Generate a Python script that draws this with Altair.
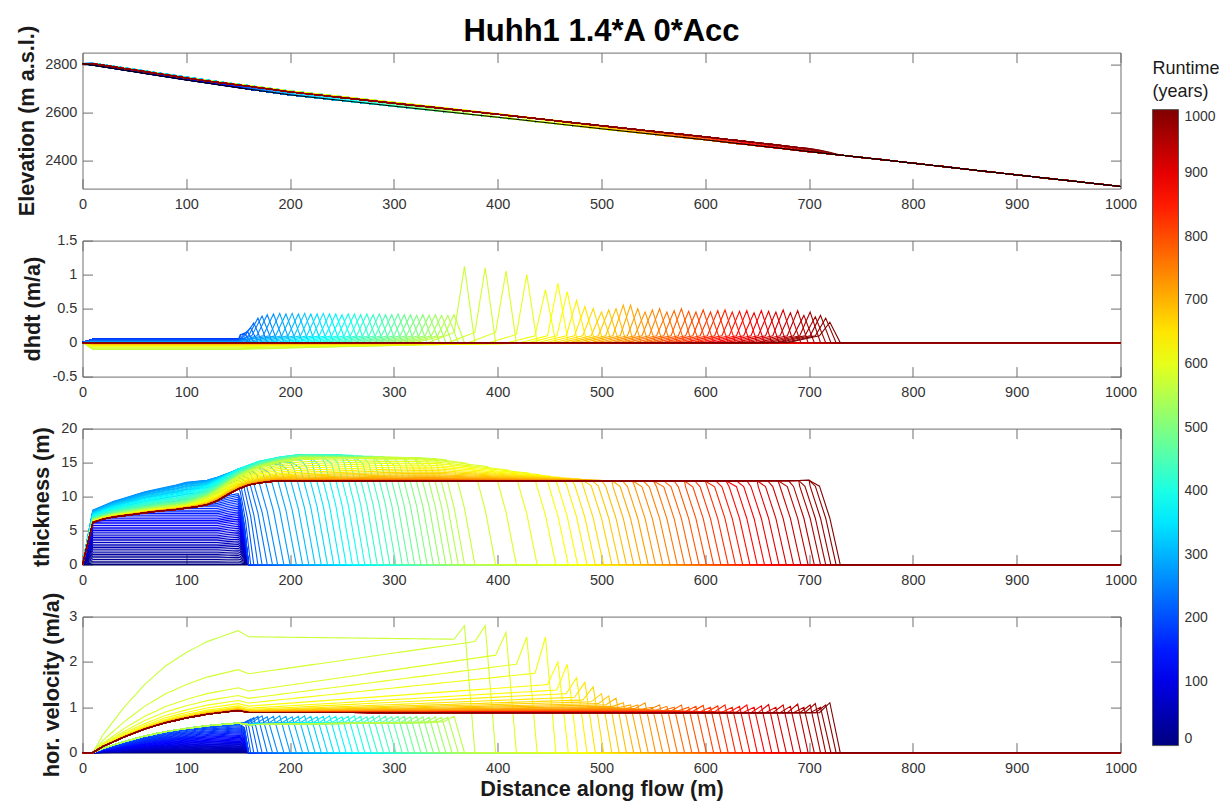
import altair as alt
import numpy as np
import pandas as pd

alt.data_transformers.disable_max_rows()

# ---------------- text ----------------
TITLE = "Huhh1 1.4*A 0*Acc"
Y_TITLES = ["Elevation (m a.s.l.)", "dhdt (m/a)", "thickness (m)", "hor. velocity (m/a)"]
X_TITLE = "Distance along flow (m)"
LEGEND_TITLE = ["Runtime", "(years)"]

# ---------------- ticks ----------------
X_TICKS = [0, 100, 200, 300, 400, 500, 600, 700, 800, 900, 1000]
ELEV_TICKS = [2400, 2600, 2800]
DHDT_TICKS = [-0.5, 0, 0.5, 1, 1.5]
THICK_TICKS = [0, 5, 10, 15, 20]
VEL_TICKS = [0, 1, 2, 3]
RUNTIME_TICKS = [0, 100, 200, 300, 400, 500, 600, 700, 800, 900, 1000]

# model grid along flow (m)
GRID_X = list(range(0, 1001, 10))

# ---------------- profiles ----------------
BED_X = [0, 50, 100, 150, 200, 300, 400, 500, 600, 700, 800, 900, 1000]
BED_Z = [2802, 2768, 2734, 2702, 2672, 2625, 2579, 2531, 2485, 2436, 2388, 2339, 2291]

# final (red) thickness profile
FINAL_X = [0, 10, 20, 30, 40, 50, 60, 70, 80, 90, 100, 110, 120, 130, 140, 150, 160, 170, 180, 190, 200, 400, 600, 680, 700, 1000]
FINAL_H = [0, 6.2, 6.7, 7.0, 7.2, 7.4, 7.6, 7.8, 7.95, 8.1, 8.3, 8.5, 8.8, 9.4, 10.3, 11.1, 11.7, 12.0, 12.2, 12.3, 12.3, 12.3, 12.3, 12.35, 12.4, 12.4]

# upper envelope of all thickness curves
TOP_X = [0, 10, 30, 60, 90, 120, 150, 170, 190, 220, 250, 290, 320, 345, 370, 400, 430, 465, 500, 530, 560, 600, 1000]
TOP_H = [0, 8.0, 9.3, 10.7, 11.7, 12.9, 15.0, 15.9, 16.2, 16.2, 16.1, 16.0, 15.8, 15.5, 15.0, 14.4, 13.8, 13.2, 12.7, 12.5, 12.4, 12.3, 12.3]

# normalised velocity shape upstream of x = 150 m
VS_X = [0, 10, 20, 30, 40, 60, 80, 100, 120, 140, 150]
VS_S = [0, 0.0, 0.15, 0.26, 0.37, 0.56, 0.71, 0.82, 0.91, 0.97, 1.0]

# zones where the thickening weights apply (upstream, middle, downstream)
ZONE_X = [100, 210, 340]

# ---------------- phase A: slab thickening, front fixed ----------------
YEARS_A = [0, 5, 10, 15, 20, 25, 30, 35, 40, 45, 50, 55, 60, 65, 70, 75, 80, 85, 90, 95,
           100, 105, 110, 115, 120, 125, 130, 135, 140, 145, 150, 155, 160, 165, 170, 175, 180, 185, 190, 195]
SLAB_H = [0, 0.25, 0.5, 0.75, 1.0, 1.25, 1.5, 1.75, 2.0, 2.25, 2.5, 2.75, 3.0, 3.25, 3.5, 3.75, 4.0, 4.25, 4.5, 4.75,
          5.0, 5.25, 5.5, 5.75, 6.0, 6.25, 6.5, 6.75, 7.0, 7.25, 7.5, 7.75, 8.0, 8.25, 8.5, 8.75, 9.0, 9.25, 9.5, 9.75]
U150_A = [0, 0.003, 0.007, 0.013, 0.02, 0.028, 0.037, 0.047, 0.057, 0.068, 0.08, 0.092, 0.105, 0.119, 0.133, 0.147,
          0.162, 0.177, 0.193, 0.209, 0.226, 0.243, 0.261, 0.279, 0.297, 0.316, 0.335, 0.355, 0.375, 0.395, 0.416,
          0.437, 0.458, 0.48, 0.502, 0.524, 0.546, 0.569, 0.593, 0.616]
FRONT_A = 160
TAPER_A = 4
DHDT_A = 0.05
BUMP_X = [0, 130, 140, 150, 170]
BUMP_K = [1.0, 1.0, 1.04, 1.07, 1.07]

# ---------------- phase B: slow advance ----------------
YEARS_B = [200, 210, 220, 230, 240, 250, 260, 270, 280, 290, 300, 310, 320, 330, 340, 350, 360, 370, 380,
           390, 400, 410, 420, 430, 440, 450, 460, 470, 480, 490, 500, 510, 520, 530, 540, 550, 560]
FRONT_B = [162, 165, 169, 173, 178, 183, 188, 194, 200, 206, 212, 218, 224, 230, 236, 242, 248, 254, 260,
           266, 272, 278, 284, 290, 296, 302, 308, 314, 320, 326, 332, 338, 344, 350, 356, 362, 368]
TAPER_B = [5, 6, 7, 8, 9, 10, 10, 10, 10, 10, 10, 10, 10, 10, 10, 10, 10, 10, 10,
           10, 10, 10, 10, 10, 10, 10, 10, 10, 10, 10, 10, 10, 10, 10, 10, 10, 10]
W_UP_B = [0.15, 0.35, 0.55, 0.72, 0.85, 0.94, 1.0, 0.98, 0.95, 0.92, 0.88, 0.84, 0.8, 0.76, 0.72, 0.68, 0.64, 0.6, 0.56,
          0.52, 0.48, 0.45, 0.42, 0.39, 0.36, 0.33, 0.31, 0.29, 0.27, 0.25, 0.23, 0.21, 0.2, 0.19, 0.18, 0.17, 0.16]
W_MID_B = [0.0, 0.05, 0.1, 0.16, 0.22, 0.28, 0.34, 0.4, 0.46, 0.52, 0.58, 0.64, 0.7, 0.75, 0.8, 0.85, 0.89, 0.93, 0.96,
           0.98, 1.0, 1.0, 1.0, 0.99, 0.98, 0.97, 0.96, 0.95, 0.94, 0.93, 0.92, 0.91, 0.9, 0.89, 0.88, 0.87, 0.86]
W_DN_B = [0.0, 0.05, 0.1, 0.16, 0.22, 0.28, 0.34, 0.4, 0.46, 0.52, 0.58, 0.64, 0.7, 0.75, 0.8, 0.85, 0.89, 0.93, 0.96,
          0.98, 1.0, 1.0, 1.0, 0.99, 0.98, 0.97, 0.96, 0.95, 0.94, 0.93, 0.92, 0.93, 0.94, 0.95, 0.96, 0.98, 1.0]
U150_B = [0.62, 0.63, 0.64, 0.64, 0.65, 0.65, 0.65, 0.65, 0.65, 0.65, 0.65, 0.65, 0.65, 0.65, 0.65, 0.65, 0.65, 0.65, 0.65,
          0.65, 0.65, 0.65, 0.65, 0.65, 0.65, 0.65, 0.65, 0.65, 0.65, 0.65, 0.65, 0.65, 0.65, 0.65, 0.65, 0.65, 0.65]
UFRONT_B = [0.62, 0.63, 0.64, 0.65, 0.66, 0.66, 0.66, 0.66, 0.66, 0.66, 0.66, 0.66, 0.66, 0.66, 0.66, 0.66, 0.66, 0.66, 0.66,
            0.66, 0.66, 0.66, 0.66, 0.66, 0.66, 0.66, 0.66, 0.66, 0.66, 0.66, 0.66, 0.66, 0.66, 0.66, 0.66, 0.67, 0.68]
VPEAK_B = [0.66, 0.7, 0.74, 0.77, 0.8, 0.81, 0.79, 0.8, 0.81, 0.8, 0.79, 0.8, 0.81, 0.8, 0.79, 0.8, 0.81, 0.8, 0.79,
           0.8, 0.81, 0.8, 0.79, 0.8, 0.81, 0.8, 0.79, 0.8, 0.8, 0.79, 0.8, 0.79, 0.78, 0.79, 0.78, 0.78, 0.8]
DUP_B = [0.04, 0.035, 0.03, 0.025, 0.02, 0.016, 0.012, 0.009, 0.006, 0.004, 0.002, 0.0, 0.0, 0.0, -0.002, -0.004, -0.005,
         -0.006, -0.007, -0.008, -0.009, -0.01, -0.011, -0.012, -0.013, -0.014, -0.015, -0.016, -0.017, -0.018, -0.019,
         -0.02, -0.021, -0.022, -0.023, -0.024, -0.025]
DBASE_B = [0.12, 0.12, 0.11, 0.11, 0.1, 0.1, 0.1, 0.1, 0.1, 0.1, 0.1, 0.1, 0.1, 0.1, 0.1, 0.1, 0.1, 0.1, 0.1,
           0.1, 0.1, 0.1, 0.1, 0.1, 0.1, 0.1, 0.1, 0.1, 0.1, 0.1, 0.1, 0.1, 0.1, 0.1, 0.1, 0.1, 0.1]
DPEAK_B = [0.12, 0.16, 0.22, 0.29, 0.36, 0.39, 0.41, 0.42, 0.43, 0.42, 0.43, 0.42, 0.43, 0.42, 0.42, 0.43, 0.42, 0.42, 0.41,
           0.42, 0.42, 0.41, 0.42, 0.41, 0.42, 0.41, 0.41, 0.42, 0.41, 0.41, 0.4, 0.41, 0.4, 0.41, 0.4, 0.4, 0.41]

# ---------------- phase C: surge and later steady advance ----------------
YEARS_C = [570, 580, 590, 600, 610, 620, 630, 640, 650, 660, 670, 680, 690, 700, 710, 720, 730, 740, 750, 760, 770, 780,
           790, 800, 810, 820, 830, 840, 850, 860, 870, 880, 890, 900, 910, 920, 930, 940, 950, 960, 970, 980, 990, 1000]
FRONT_C = [378, 398, 418, 438, 456, 468, 477, 486, 494, 502, 510, 517, 524, 531, 538, 545, 552, 559, 566, 573, 580, 587,
           594, 601, 608, 615, 622, 629, 636, 643, 650, 657, 664, 671, 678, 685, 692, 699, 705, 711, 716, 721, 726, 730]
W_UP_C = [0.15, 0.13, 0.11, 0.1, 0.09, 0.08, 0.07, 0.06, 0.05, 0.045, 0.04, 0.035, 0.03, 0.025, 0.02, 0.018, 0.016, 0.014,
          0.012, 0.01, 0.008, 0.006, 0.005, 0.004, 0.003, 0.002, 0.001, 0, 0, 0, 0, 0, 0, 0, 0, 0, 0, 0, 0, 0, 0, 0, 0, 0]
W_MID_C = [0.85, 0.8, 0.72, 0.64, 0.56, 0.48, 0.4, 0.33, 0.27, 0.22, 0.18, 0.14, 0.11, 0.08, 0.06, 0.045, 0.035, 0.025,
           0.02, 0.015, 0.01, 0.008, 0.006, 0.004, 0.002, 0, 0, 0, 0, 0, 0, 0, 0, 0, 0, 0, 0, 0, 0, 0, 0, 0, 0, 0]
W_DN_C = [1.0, 0.97, 0.92, 0.85, 0.78, 0.7, 0.62, 0.54, 0.47, 0.4, 0.34, 0.28, 0.23, 0.19, 0.15, 0.12, 0.09, 0.07, 0.05,
          0.04, 0.03, 0.02, 0.01, 0.005, 0, 0, 0, 0, 0, 0, 0, 0, 0, 0, 0, 0, 0, 0, 0, 0, 0, 0, 0, 0]
U150_C = [2.69, 1.83, 1.43, 1.26, 1.15, 1.08, 1.03, 1.0, 0.98, 0.97, 0.96, 0.955, 0.95, 0.95, 0.945, 0.94, 0.94, 0.94,
          0.935, 0.935, 0.93, 0.93, 0.93, 0.93, 0.93, 0.93, 0.93, 0.93, 0.93, 0.93, 0.93, 0.93, 0.93, 0.93, 0.93, 0.93,
          0.93, 0.93, 0.93, 0.93, 0.93, 0.93, 0.93, 0.93]
UFRONT_C = [2.5, 2.45, 2.15, 1.95, 1.75, 1.5, 1.38, 1.3, 1.22, 1.16, 1.12, 1.08, 1.05, 1.02, 1.0, 0.98, 0.97, 0.96, 0.95,
            0.94, 0.93, 0.92, 0.92, 0.91, 0.91, 0.9, 0.9, 0.9, 0.89, 0.89, 0.89, 0.89, 0.88, 0.88, 0.88, 0.88, 0.88, 0.88,
            0.88, 0.88, 0.88, 0.88, 0.88, 0.88]
VPEAK_C = [2.8, 2.8, 2.65, 2.55, 2.55, 2.0, 1.95, 1.65, 1.55, 1.45, 1.3, 1.25, 1.2, 1.1, 1.05, 1.05, 1.1, 1.0, 1.05, 1.02,
           1.0, 1.05, 1.0, 1.02, 1.04, 1.0, 1.03, 1.05, 1.0, 1.02, 1.05, 1.0, 1.03, 1.06, 1.0, 1.05, 1.02, 1.07, 1.0,
           1.05, 1.08, 1.0, 1.05, 1.1]
DUP_C = [-0.1, -0.09, -0.075, -0.06, -0.05, -0.045, -0.04, -0.035, -0.03, -0.027, -0.024, -0.021, -0.018, -0.016,
         -0.014, -0.012, -0.01, -0.009, -0.008, -0.007, -0.006, -0.005, -0.004, -0.003, -0.002, -0.002, -0.001, -0.001,
         0, 0, 0, 0, 0, 0, 0, 0, 0, 0, 0, 0, 0, 0, 0, 0]
DBASE_C = [0.15, 0.15, 0.15, 0.12, 0.1, 0.1, 0.1, 0.1, 0.1, 0.1, 0.1, 0.1, 0.1, 0.1, 0.1, 0.1, 0.1, 0.1, 0.1, 0.1, 0.1,
           0.1, 0.1, 0.1, 0.1, 0.1, 0.1, 0.1, 0.1, 0.1, 0.1, 0.1, 0.1, 0.1, 0.1, 0.1, 0.1, 0.1, 0.1, 0.1, 0.1, 0.1, 0.1, 0.1]
DPEAK_C = [1.12, 1.1, 1.05, 1.0, 0.78, 0.87, 0.75, 0.62, 0.53, 0.5, 0.45, 0.48, 0.5, 0.55, 0.55, 0.5, 0.45, 0.48, 0.5,
           0.45, 0.47, 0.5, 0.46, 0.45, 0.48, 0.45, 0.47, 0.48, 0.45, 0.46, 0.47, 0.44, 0.47, 0.46, 0.45, 0.48, 0.44,
           0.47, 0.4, 0.45, 0.38, 0.4, 0.36, 0.3]
TAPER_C = 10

# ---------------- build the curves ----------------
rows = []


def add_curve(year, front, L, prof, u150, ufront, vpeak, dup, dbase, dpeak):
    x_a, x_b = front - 2 * L, front - L
    xs = [float(g) for g in GRID_X if g < x_a - 0.01 or g > front + 0.01]
    xs = sorted(set(xs + [float(x_a), float(x_b), float(front)]))
    for x in xs:
        if x >= front - 0.01:
            h = v = d = 0.0
        elif abs(x - x_b) < 0.01:
            h, v, d = 0.55 * prof(x), vpeak, dpeak
        elif abs(x - x_a) < 0.01:
            h, v, d = 0.93 * prof(x), ufront, dbase
        else:
            h = prof(x)
            if x <= 150:
                v = u150 * float(np.interp(x, VS_X, VS_S))
            elif x_a > 160:
                v = float(np.interp(x, [150, 160, x_a], [u150, 0.95 * u150, ufront]))
            else:
                v = float(np.interp(x, [150, x_a], [u150, ufront]))
            if x <= 10:
                d = float(np.interp(x, [0, 10], [0, dup]))
            elif x <= 150:
                d = dup
            elif x_a - 30 > 150:
                d = float(np.interp(x, [150, x_a - 30, x_a], [dup, 0.3 * dup, dbase]))
            else:
                d = float(np.interp(x, [150, x_a], [dup, dbase]))
        z = float(np.interp(x, BED_X, BED_Z)) + h
        rows.append((year, x, round(z, 3), round(d, 4), round(h, 4), round(v, 4)))


def blended_profile(wu, wm, wd):
    def prof(x):
        F = float(np.interp(x, FINAL_X, FINAL_H))
        T = float(np.interp(x, TOP_X, TOP_H))
        w = float(np.interp(x, ZONE_X, [wu, wm, wd]))
        return F + w * (T - F)
    return prof


def slab_profile(H):
    def prof(x):
        return min(H * float(np.interp(x, BUMP_X, BUMP_K)), float(np.interp(x, FINAL_X, FINAL_H)))
    return prof


for i, yr in enumerate(YEARS_A):
    add_curve(yr, FRONT_A, TAPER_A, slab_profile(SLAB_H[i]), U150_A[i], U150_A[i], 0.9 * U150_A[i],
              DHDT_A, DHDT_A, DHDT_A)

for i, yr in enumerate(YEARS_B):
    add_curve(yr, FRONT_B[i], TAPER_B[i], blended_profile(W_UP_B[i], W_MID_B[i], W_DN_B[i]),
              U150_B[i], UFRONT_B[i], VPEAK_B[i], DUP_B[i], DBASE_B[i], DPEAK_B[i])

for i, yr in enumerate(YEARS_C):
    add_curve(yr, FRONT_C[i], TAPER_C, blended_profile(W_UP_C[i], W_MID_C[i], W_DN_C[i]),
              U150_C[i], UFRONT_C[i], VPEAK_C[i], DUP_C[i], DBASE_C[i], DPEAK_C[i])

df = pd.DataFrame(rows, columns=["year", "x", "elev", "dhdt", "thick", "vel"])
bed_df = pd.DataFrame({"x": BED_X, "z": BED_Z})

# ---------------- styling ----------------
FONT = "Liberation Sans"
FRAME = "#6e6e6e"
JET_STOPS = [0, 125, 375, 625, 875, 1000]
JET_COLORS = ["#000080", "#0000ff", "#00ffff", "#ffff00", "#ff0000", "#800000"]
PLAIN = "'' + datum.value"

jet = alt.Scale(domain=JET_STOPS, range=JET_COLORS, interpolate="rgb")
x_scale = alt.Scale(domain=[0, 1000], nice=False, zero=False)
TICK_IN = {"expr": "-10"}

legend = alt.Legend(
    title=LEGEND_TITLE, orient="none", legendX=1070, legendY=7, direction="vertical",
    type="gradient", gradientLength=636, gradientThickness=26,
    gradientStrokeColor="#555555", gradientStrokeWidth=1,
    values=RUNTIME_TICKS, labelExpr=PLAIN, labelOverlap=False, labelFont=FONT, labelFontSize=14,
    labelColor="#333333", labelOffset=6, titleFont=FONT, titleFontSize=18,
    titleFontWeight="normal", titleColor="#1a1a1a", titleLineHeight=23,
    titlePadding=9, titleAnchor="start",
)


def panel(field, domain, ticks, ytitle, ytitle_x, xtitle=None, with_bed=False):
    y_scale = alt.Scale(domain=domain, nice=False, zero=False)
    x_axis = alt.Axis(values=X_TICKS, title=xtitle, tickSize=TICK_IN, labelPadding=18.7,
                      labelFlush=False, titlePadding=4, labelExpr=PLAIN)
    y_axis = alt.Axis(values=ticks, title=ytitle, tickSize=TICK_IN, labelPadding=15.6,
                      titleX=ytitle_x, labelExpr=PLAIN)
    lines = alt.Chart(df).mark_line(strokeWidth=1.1, opacity=1).encode(
        x=alt.X("x:Q", scale=x_scale, axis=x_axis),
        y=alt.Y(f"{field}:Q", scale=y_scale, axis=y_axis),
        color=alt.Color("year:Q", scale=jet, legend=legend),
        detail="year:N",
    )
    layers = [lines]
    if with_bed:
        layers.append(alt.Chart(bed_df).mark_line(strokeWidth=1, color="black").encode(
            x=alt.X("x:Q", scale=x_scale, axis=None), y=alt.Y("z:Q", scale=y_scale, axis=None)))
    dummy = pd.DataFrame({"x": [0.0], "y": [float(domain[0])]})
    frame = alt.Chart(dummy).mark_point(opacity=0).encode(
        x=alt.X("x:Q", scale=x_scale, axis=alt.Axis(orient="top", values=X_TICKS, labels=False,
                                                      title=None, tickSize=TICK_IN,
                                                      minExtent=0, maxExtent=0)),
        y=alt.Y("y:Q", scale=y_scale, axis=alt.Axis(orient="right", values=ticks, labels=False,
                                                      title=None, tickSize=TICK_IN,
                                                      minExtent=0, maxExtent=0)),
    )
    layers.append(frame)
    return alt.layer(*layers).resolve_axis(x="independent", y="independent").properties(width=1038, height=136)


# the title is placed beyond the top of the rotated "Elevation" axis title, hence the negative offset
p1 = panel("elev", [2282, 2848], ELEV_TICKS, Y_TITLES[0], -43.6, with_bed=True).properties(
    title=alt.TitleParams(TITLE, font=FONT, fontSize=31, fontWeight="bold", color="black", anchor="middle",
                          frame="group", offset=-22.6)
)
p2 = panel("dhdt", [-0.5, 1.5], DHDT_TICKS, Y_TITLES[1], -38.5)
p3 = panel("thick", [0, 20], THICK_TICKS, Y_TITLES[2], -28.6)
p4 = panel("vel", [0, 3], VEL_TICKS, Y_TITLES[3], -19.5, xtitle=X_TITLE)

chart = alt.vconcat(p1, p2, p3, p4, spacing=52).properties(
    padding={"left": 7.5, "top": 6.6, "right": 0, "bottom": 0},
    bounds="flush",
).configure_view(
    stroke=FRAME, strokeWidth=1
).configure_axis(
    domain=False, grid=False, labelFont=FONT, labelFontSize=14.5, labelColor="#333333",
    titleFont=FONT, titleFontSize=21.7, titleFontWeight="bold", titleColor="#1a1a1a",
    tickColor=FRAME, tickWidth=1,
)

chart.save("out.html", embed_options={"renderer": "svg", "actions": False})
